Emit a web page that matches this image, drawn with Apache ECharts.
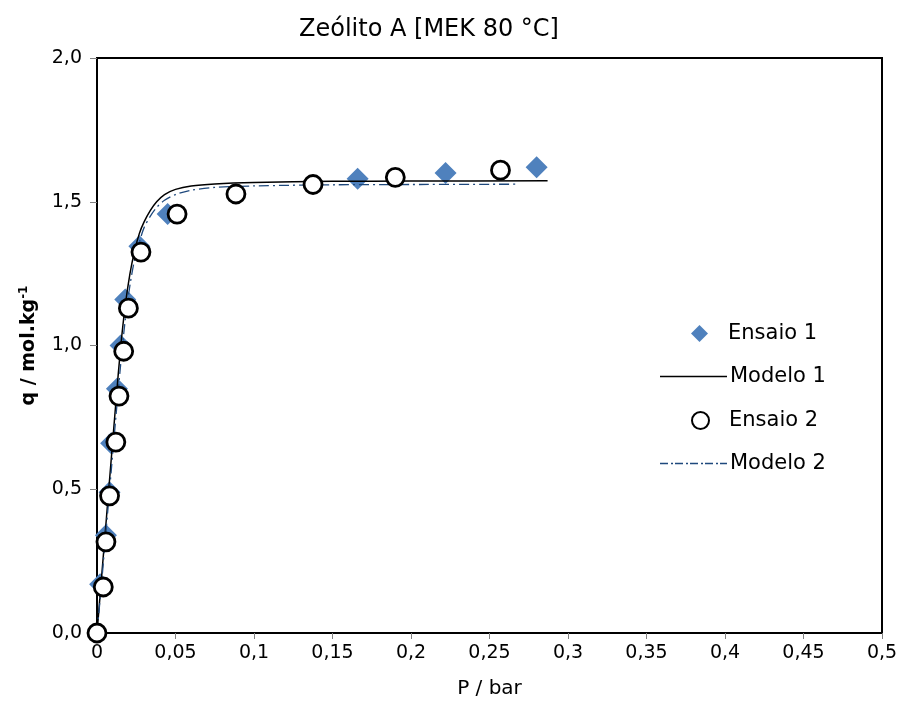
<!DOCTYPE html>
<html>
<head>
<meta charset="utf-8">
<script src="https://cdn.jsdelivr.net/npm/echarts@6/dist/echarts.min.js"></script>
<style>
  html, body { margin: 0; padding: 0; background: #fff; }
  #chart { width: 901px; height: 708px; }
</style>
</head>
<body>
<div id="chart"></div>
<script>
// Zeólito A [MEK 80 °C] — isotérmica
const ensaio1P = [0.002, 0.0057, 0.008, 0.009, 0.0127, 0.015, 0.018, 0.027, 0.045, 0.166, 0.222, 0.280];
const ensaio1Q = [0.17, 0.34, 0.49, 0.66, 0.85, 1.00, 1.16, 1.345, 1.457, 1.58, 1.60, 1.62];

const ensaio2P = [0, 0.004, 0.0057, 0.008, 0.012, 0.014, 0.017, 0.020, 0.028, 0.051, 0.0885, 0.1376, 0.190, 0.257];
const ensaio2Q = [0, 0.16, 0.317, 0.477, 0.664, 0.824, 0.98, 1.13, 1.325, 1.457, 1.527, 1.56, 1.585, 1.61];

const modelo1P = [0, 0.003, 0.006, 0.009, 0.012, 0.015, 0.018, 0.021, 0.024, 0.027, 0.030, 0.034, 0.038, 0.043, 0.050, 0.060, 0.075, 0.100, 0.150, 0.200, 0.287];
const modelo1Q = [0, 0.20, 0.40, 0.60, 0.80, 0.99, 1.14, 1.25, 1.33, 1.39, 1.43, 1.47, 1.50, 1.525, 1.543, 1.555, 1.562, 1.567, 1.571, 1.572, 1.573];

const modelo2P = [0, 0.003, 0.006, 0.009, 0.012, 0.015, 0.018, 0.021, 0.024, 0.027, 0.030, 0.034, 0.038, 0.043, 0.050, 0.060, 0.075, 0.100, 0.150, 0.200, 0.2675];
const modelo2Q = [0, 0.18, 0.37, 0.56, 0.75, 0.93, 1.09, 1.21, 1.30, 1.36, 1.41, 1.45, 1.48, 1.505, 1.525, 1.540, 1.550, 1.555, 1.559, 1.560, 1.561];

const FONT = 'DejaVu Sans';
const BLUE = '#4F81BD';
const NAVY = '#1F497D';
const zip = (xs, ys) => xs.map((x, i) => [x, ys[i]]);

// ícones da legenda para as linhas (linha contínua e traço-ponto)
const solidIcon = 'path://M0,0H67V1.4H0Z';
let dashIcon = 'path://';
for (let x = 0; x < 67; x += 15) {
  dashIcon += `M${x},0H${Math.min(x + 8, 67)}V1.4H${x}Z`;
  if (x + 13 <= 67) dashIcon += `M${x + 11},0H${x + 13}V1.4H${x + 11}Z`;
}

function lineLegend(name, icon, top) {
  return {
    left: 655,
    top: top,
    itemWidth: 67,
    itemHeight: 14,
    textStyle: { fontFamily: FONT, fontSize: 21, color: '#000', padding: [0, 0, 0, -2] },
    data: [{ name: name, icon: icon }],
  };
}

function markerLegend(name, icon, top) {
  return {
    left: 686,
    top: top,
    itemWidth: 17,
    itemHeight: 17,
    textStyle: { fontFamily: FONT, fontSize: 21, color: '#000', padding: [0, 0, 0, 15] },
    data: [{ name: name, icon: icon }],
  };
}

const chart = echarts.init(document.getElementById('chart'), null, { renderer: 'canvas' });

chart.setOption({
  animation: false,
  backgroundColor: '#fff',
  textStyle: { fontFamily: FONT, color: '#000' },
  title: {
    text: 'Zeólito A [MEK 80 °C]',
    left: 424,
    textAlign: 'center',
    top: 13,
    textStyle: { fontFamily: FONT, fontSize: 24, fontWeight: 'normal', color: '#000' },
  },
  legend: [
    markerLegend('Ensaio 1', 'diamond', 318),
    lineLegend('Modelo 1', solidIcon, 361),
    markerLegend('Ensaio 2', 'circle', 405),
    lineLegend('Modelo 2', dashIcon, 448),
  ],
  grid: {
    left: 97,
    right: 19,
    top: 58,
    bottom: 75,
    show: true,
    borderColor: '#000',
    borderWidth: 2,
  },
  xAxis: {
    type: 'value',
    min: 0,
    max: 0.5,
    interval: 0.05,
    name: 'P / bar',
    nameLocation: 'middle',
    nameGap: 46,
    nameTextStyle: { fontFamily: FONT, fontSize: 20, color: '#000' },
    axisLine: { lineStyle: { color: '#000', width: 2 } },
    axisTick: { inside: false, length: 6, lineStyle: { color: '#808080' } },
    axisLabel: {
      margin: 11,
      fontFamily: FONT,
      fontSize: 19,
      color: '#000',
      formatter: (v) => String(+v.toFixed(2)).replace('.', ','),
    },
    splitLine: { show: false },
  },
  yAxis: {
    type: 'value',
    min: 0,
    max: 2,
    interval: 0.5,
    name: '{a|q / mol.kg}{b|-1}',
    nameLocation: 'middle',
    nameGap: 57,
    nameTextStyle: {
      rich: {
        a: { fontFamily: FONT, fontSize: 19, fontWeight: 'bold', color: '#000' },
        b: { fontFamily: FONT, fontSize: 12, fontWeight: 'bold', color: '#000', padding: [0, 0, 10, 0] },
      },
    },
    axisLine: { show: true, lineStyle: { color: '#000', width: 2 } },
    axisTick: { show: true, inside: false, length: 7, lineStyle: { color: '#808080' } },
    axisLabel: {
      margin: 15,
      fontFamily: FONT,
      fontSize: 19,
      color: '#000',
      formatter: (v) => v.toFixed(1).replace('.', ','),
    },
    splitLine: { show: false },
  },
  series: [
    {
      name: 'Ensaio 1',
      type: 'scatter',
      symbol: 'diamond',
      symbolSize: 22,
      itemStyle: { color: BLUE, opacity: 1 },
      data: zip(ensaio1P, ensaio1Q),
      z: 2,
    },
    {
      name: 'Modelo 1',
      type: 'line',
      showSymbol: false,
      symbol: 'none',
      smooth: 0.3,
      lineStyle: { color: '#000', width: 1.5 },
      itemStyle: { color: '#000' },
      data: zip(modelo1P, modelo1Q),
      z: 3,
    },
    {
      name: 'Ensaio 2',
      type: 'scatter',
      symbol: 'circle',
      symbolSize: 18,
      itemStyle: { color: '#fff', borderColor: '#000', borderWidth: 2.8, opacity: 1 },
      data: zip(ensaio2P, ensaio2Q),
      z: 4,
    },
    {
      name: 'Modelo 2',
      type: 'line',
      showSymbol: false,
      symbol: 'none',
      smooth: 0.3,
      lineStyle: { color: NAVY, width: 1.3, type: [10, 4, 2, 4] },
      itemStyle: { color: NAVY },
      data: zip(modelo2P, modelo2Q),
      z: 3,
    },
  ],
});
</script>
</body>
</html>
